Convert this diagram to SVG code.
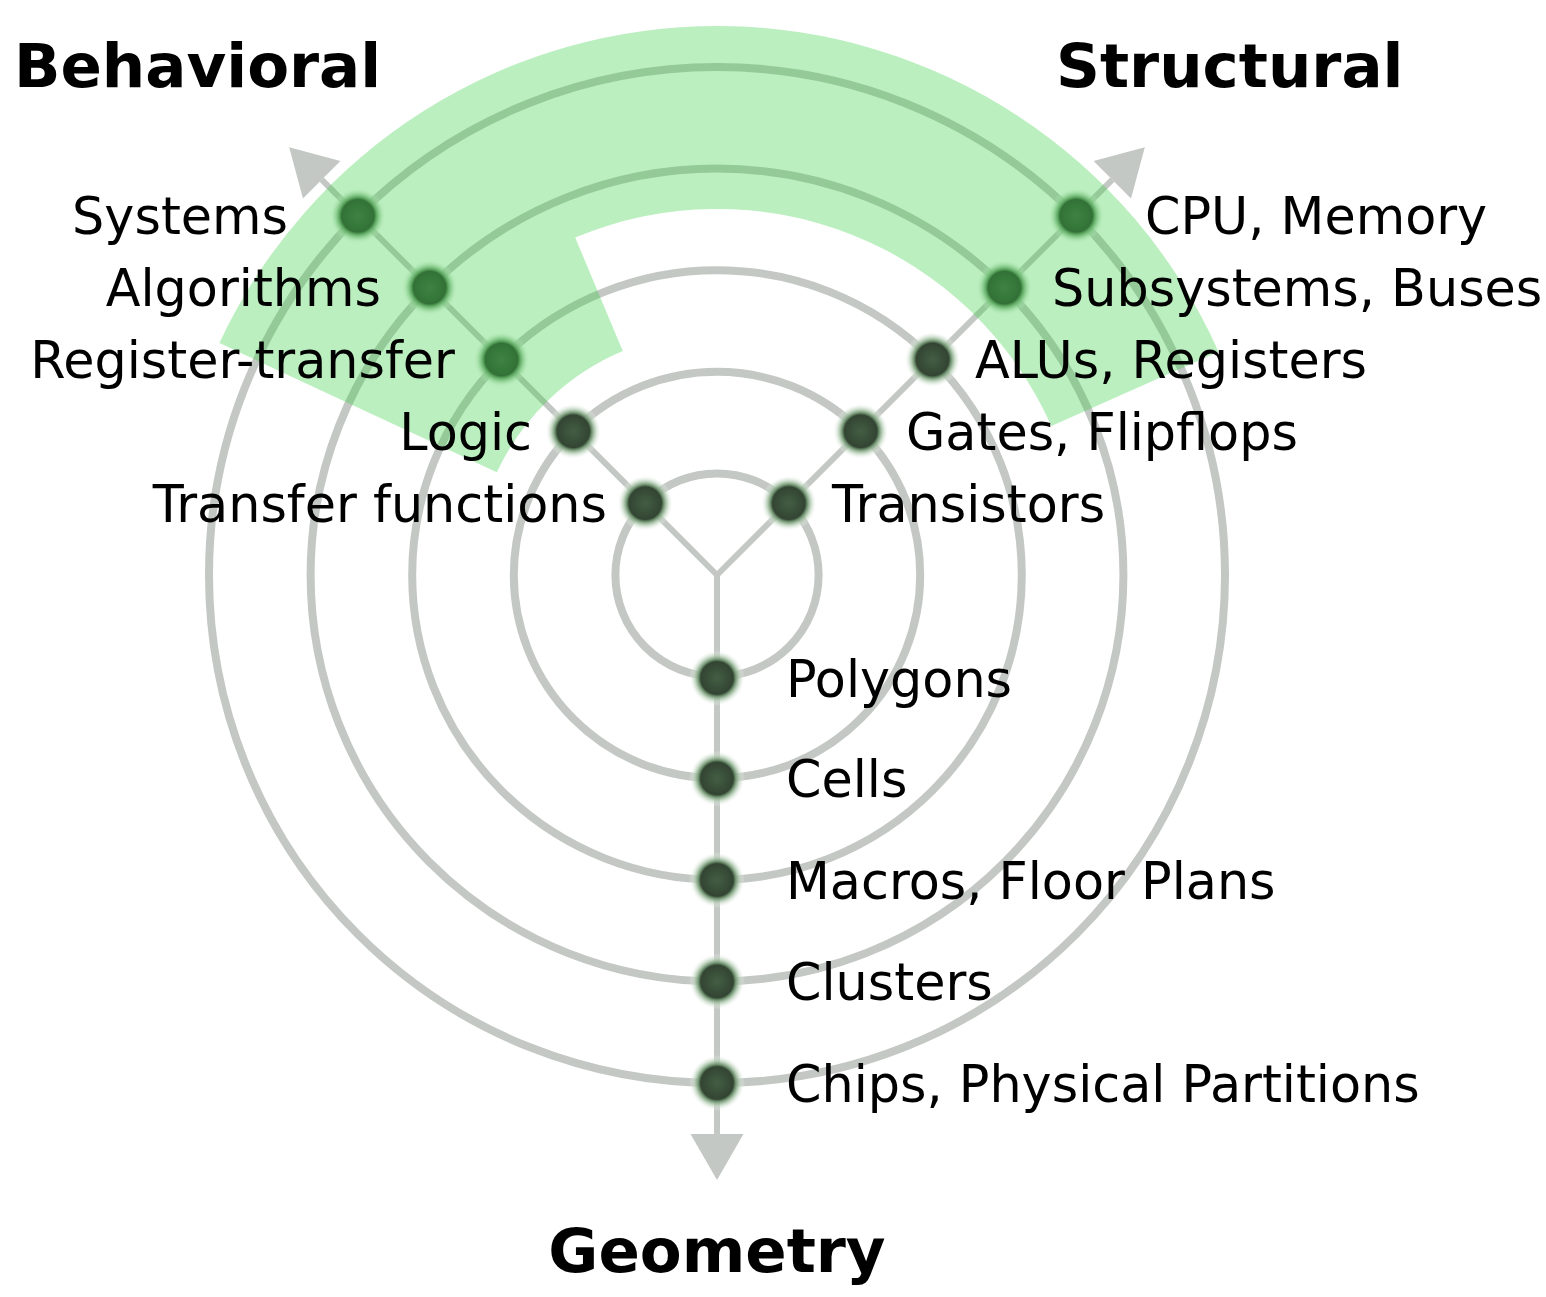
<svg xmlns="http://www.w3.org/2000/svg" width="1546" height="1297" viewBox="0 0 1546 1297">
<defs>
<style>
.ring{fill:none;stroke:#c4c8c4;stroke-width:8}
.axis{fill:none;stroke:#c4c8c4;stroke-width:6}
.lbl{font-family:"DejaVu Sans","Liberation Sans",sans-serif;font-size:50.8px;fill:#000}
.ttl{font-family:"DejaVu Sans","Liberation Sans",sans-serif;font-size:61px;font-weight:bold;fill:#000}
.node{fill:url(#nd)}
.band{fill:#34cf40;fill-opacity:0.33}
</style>
<radialGradient id="nd" cx="0.5" cy="0.5" r="0.5">
<stop offset="0" stop-color="#435e43"/>
<stop offset="0.5" stop-color="#354835"/>
<stop offset="0.58" stop-color="#334433"/>
<stop offset="0.66" stop-color="#6e916e"/>
<stop offset="0.8" stop-color="#b4cdb4" stop-opacity="0.7"/>
<stop offset="1" stop-color="#ffffff" stop-opacity="0"/>
</radialGradient>
<marker id="ah" markerUnits="userSpaceOnUse" markerWidth="50" markerHeight="56" viewBox="0 -28 48 56" refX="0" refY="0" orient="auto">
<path d="M0,-26.5 L46,0 L0,26.5 Z" fill="#c4c8c4"/>
</marker>
</defs>
<rect width="1546" height="1297" fill="#fff"/>
<g id="rings">
<circle class="ring" cx="717" cy="575" r="101.6"/>
<circle class="ring" cx="717" cy="575" r="203.2"/>
<circle class="ring" cx="717" cy="575" r="304.8"/>
<circle class="ring" cx="717" cy="575" r="406.4"/>
<circle class="ring" cx="717" cy="575" r="508"/>
</g>
<g id="connectors">
<line class="axis" x1="717" y1="575" x2="321.7" y2="179.7" marker-end="url(#ah)"/>
<line class="axis" x1="717" y1="575" x2="1112.3" y2="179.7" marker-end="url(#ah)"/>
<line class="axis" x1="717" y1="575" x2="717" y2="1134" marker-end="url(#ah)"/>
</g>
<g id="nodes">
<circle id="n-transfer" class="node" cx="645.2" cy="503.2" r="28"/>
<circle id="n-logic" class="node" cx="573.3" cy="431.3" r="28"/>
<circle id="n-rt" class="node" cx="501.5" cy="359.5" r="28"/>
<circle id="n-alg" class="node" cx="429.6" cy="287.6" r="28"/>
<circle id="n-sys" class="node" cx="357.8" cy="215.8" r="28"/>
<circle id="n-trans" class="node" cx="788.8" cy="503.2" r="28"/>
<circle id="n-gates" class="node" cx="860.7" cy="431.3" r="28"/>
<circle id="n-alu" class="node" cx="932.5" cy="359.5" r="28"/>
<circle id="n-subs" class="node" cx="1004.4" cy="287.6" r="28"/>
<circle id="n-cpu" class="node" cx="1076.2" cy="215.8" r="28"/>
<circle id="n-poly" class="node" cx="717" cy="678" r="28"/>
<circle id="n-cells" class="node" cx="717" cy="778.5" r="28"/>
<circle id="n-macros" class="node" cx="717" cy="880" r="28"/>
<circle id="n-clusters" class="node" cx="717" cy="981.5" r="28"/>
<circle id="n-chips" class="node" cx="717" cy="1083" r="28"/>
</g>
<g id="band">
<path class="band" d="M1218.5,351.7 A549,549 0 0 0 219.4,343 L496.8,472.3 A243,243 0 0 1 622.8,351 L575.2,237.6 A366,366 0 0 1 1051.4,426.1 Z"/>
</g>
<g id="labels">
<text class="lbl" x="288" y="234" text-anchor="end">Systems</text>
<text class="lbl" x="381" y="306" text-anchor="end">Algorithms</text>
<text class="lbl" x="455" y="378" text-anchor="end">Register-transfer</text>
<text class="lbl" x="532" y="450" text-anchor="end">Logic</text>
<text class="lbl" x="607" y="522" text-anchor="end">Transfer functions</text>
<text class="lbl" x="1145" y="234">CPU, Memory</text>
<text class="lbl" x="1052" y="306">Subsystems, Buses</text>
<text class="lbl" x="975" y="378">ALUs, Registers</text>
<text class="lbl" x="906" y="450">Gates, Flipflops</text>
<text class="lbl" x="832" y="522">Transistors</text>
<text class="lbl" x="786" y="697">Polygons</text>
<text class="lbl" x="786" y="797">Cells</text>
<text class="lbl" x="786" y="899">Macros, Floor Plans</text>
<text class="lbl" x="786" y="1000">Clusters</text>
<text class="lbl" x="786" y="1102">Chips, Physical Partitions</text>
<text class="ttl" x="14" y="87">Behavioral</text>
<text class="ttl" x="1056" y="87">Structural</text>
<text class="ttl" x="717" y="1272" text-anchor="middle">Geometry</text>
</g>
</svg>
